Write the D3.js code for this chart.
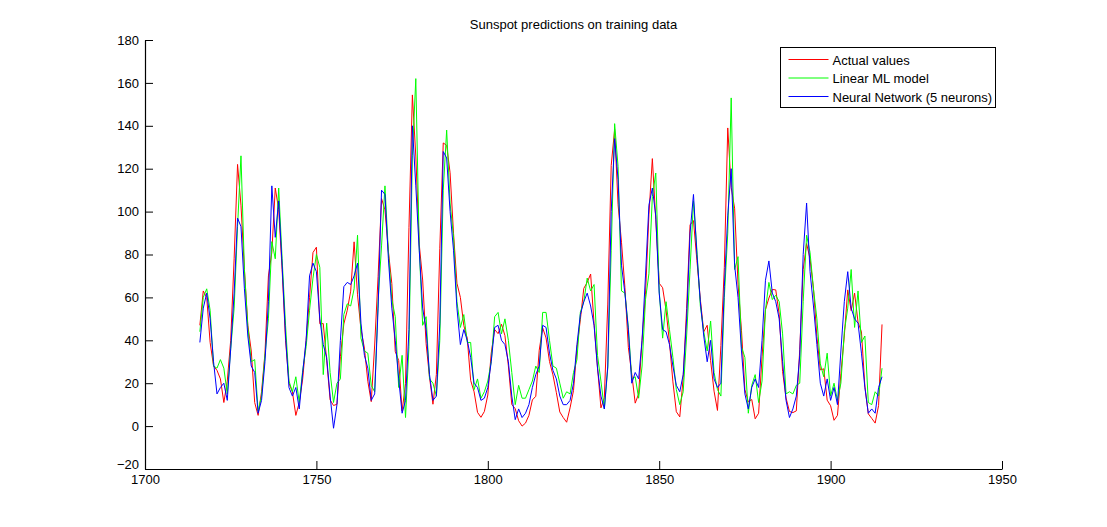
<!DOCTYPE html>
<html>
<head>
<meta charset="utf-8">
<script src="https://cdn.jsdelivr.net/npm/d3@7"></script>
<style>
  body { margin: 0; background: #fff; }
  text { font-family: "Liberation Sans", Arial, sans-serif; }
</style>
</head>
<body>
<div id="chart"></div>
<script>
// Years covered by the training set
const startYear = 1716;
const endYear = 1915;

// Actual yearly sunspot numbers (1716-1915)
const actualValues = [
  47, 63, 60, 39, 28, 26, 22, 11, 21, 40,
  78, 122, 103, 73, 47, 35, 11, 5, 16, 34,
  70, 81, 111, 101, 73, 40, 20, 16, 5, 11,
  22, 40, 60, 80.9, 83.4, 47.7, 47.8, 30.7, 12.2, 9.6,
  10.2, 32.4, 47.6, 54, 62.9, 85.9, 61.2, 45.1, 36.4, 20.9,
  11.4, 37.8, 69.8, 106.1, 100.8, 81.6, 66.5, 34.8, 30.6, 7,
  19.8, 92.5, 154.4, 125.9, 84.8, 68.1, 38.5, 22.8, 10.2, 24.1,
  82.9, 132, 130.9, 118.1, 89.9, 66.6, 60, 46.9, 41, 21.3,
  16, 6.4, 4.1, 6.8, 14.5, 34, 45, 43.1, 47.5, 42.2,
  28.1, 10.1, 8.1, 2.5, 0, 1.4, 5, 12.2, 13.9, 35.4,
  45.8, 41.1, 30.1, 23.9, 15.6, 6.6, 4, 1.8, 8.5, 16.6,
  36.3, 49.6, 64.2, 67, 70.9, 47.8, 27.5, 8.5, 13.2, 56.9,
  121.5, 138.3, 103.2, 85.7, 64.6, 36.7, 24.2, 10.7, 15, 40.1,
  61.5, 98.5, 124.7, 96.3, 66.6, 64.5, 54.1, 39, 20.6, 6.7,
  4.3, 22.7, 54.8, 93.8, 95.8, 77.2, 59.1, 44, 47, 30.5,
  16.3, 7.3, 37.6, 74, 139, 111.2, 101.6, 66.2, 44.7, 17,
  11.3, 12.4, 3.4, 6, 32.3, 54.3, 59.7, 63.7, 63.5, 52.2,
  25.4, 13.1, 6.8, 6.3, 7.1, 35.6, 73, 85.1, 78, 64,
  41.8, 26.2, 26.7, 12.1, 9.5, 2.7, 5, 24.4, 42, 63.5,
  53.8, 62, 48.5, 43.9, 18.6, 5.7, 3.6, 1.4, 9.6, 47.4
];

// Linear ML model predictions
const linearValues = [
  44, 60, 64, 54, 28, 27, 31, 27, 15, 36,
  55, 93, 126, 73, 46, 30, 31, 7, 14, 33,
  50, 86, 78, 111, 78, 47, 21, 16, 23, 11,
  26, 37, 54, 69, 80, 74, 24, 48, 25, 11,
  20, 22, 52, 57, 56, 64, 89, 41, 35, 34,
  19, 16, 58, 84, 112, 81, 59, 51, 18, 33,
  4, 37, 126, 162, 83, 47, 51, 22, 20, 14,
  40, 110, 138, 104, 88, 58, 46, 52, 39, 39,
  17, 22, 13, 16, 21, 30, 51, 53, 43, 50,
  40, 25, 10, 19, 13, 13, 17, 21, 28, 25,
  53, 53, 40, 28, 27, 20, 13, 16, 15, 25,
  31, 53, 58, 69, 63, 66, 33, 21, 8, 27,
  82, 141, 121, 63, 62, 46, 22, 23, 13, 28,
  59, 71, 107, 118, 63, 41, 58, 45, 32, 17,
  10, 16, 42, 73, 105, 82, 56, 44, 35, 49,
  25, 17, 14, 60, 90, 153, 73, 79, 37, 32,
  6, 19, 24, 11, 21, 54, 67, 59, 61, 58,
  43, 15, 16, 15, 19, 20, 58, 89, 81, 64,
  50, 29, 23, 34, 14, 20, 12, 20, 44, 55,
  73, 46, 63, 39, 42, 11, 10, 16, 14, 27
];

// Neural network (5 neurons) predictions
const neuralValues = [
  39, 55, 62, 50, 30, 15, 18, 20, 12, 36,
  62, 97, 93, 64, 42, 28, 25, 6, 12, 30,
  58, 112, 88, 105, 75, 42, 18, 14, 18, 8,
  25, 40, 70, 76, 72, 50, 38, 32, 14, -1,
  10, 40, 65, 67, 66, 70, 76, 48, 33, 27,
  12, 15, 55, 110, 108, 78, 55, 40, 22, 6,
  12, 45, 140, 112, 82, 55, 45, 24, 12, 14,
  48, 128, 125, 100, 82, 55, 38, 45, 40, 32,
  20, 18, 12, 13, 18, 30, 46, 47, 40, 38,
  30, 14, 3, 8, 4, 6, 10, 18, 24, 28,
  47, 46, 34, 26, 22, 14, 10, 10, 12, 20,
  38, 52, 58, 62, 56, 47, 27, 14, 8, 28,
  100, 134, 115, 75, 62, 45, 20, 25, 22, 40,
  70, 103, 111, 98, 62, 45, 44, 38, 28, 19,
  16, 24, 50, 90, 108, 80, 58, 42, 30, 40,
  22, 18, 20, 65, 98, 120, 75, 60, 35, 15,
  8, 18, 22, 18, 40, 68, 77, 62, 58, 50,
  30, 12, 4, 8, 14, 33, 80, 104, 72, 56,
  38, 20, 14, 22, 12, 18, 10, 35, 58, 72,
  55, 50, 48, 34, 18, 6, 8, 6, 18, 23
];

const seriesNames = ["Actual values", "Linear ML model", "Neural Network (5 neurons)"];
const seriesColors = ["#ff0000", "#00ff00", "#0000ff"];

const xTicks = [1700, 1750, 1800, 1850, 1900, 1950];
const yTicks = [-20, 0, 20, 40, 60, 80, 100, 120, 140, 160, 180];

const years = d3.range(startYear, endYear + 1);

// Figure size and axes position
const W = 1107, H = 527;
const margin = { top: 40, right: 105, bottom: 58, left: 145 };
const width = W - margin.left - margin.right;
const height = H - margin.top - margin.bottom;

const svg = d3.select("#chart")
    .append("svg")
    .attr("width", W)
    .attr("height", H);

const g = svg.append("g")
    .attr("transform", "translate(" + margin.left + "," + margin.top + ")");

const x = d3.scaleLinear().domain([1700, 1950]).range([0, width]);
const y = d3.scaleLinear().domain([-20, 180]).range([height, 0]);

// Bottom axis, ticks pointing inward
const xAxis = g.append("g")
    .attr("transform", "translate(0," + height + ")")
    .call(d3.axisBottom(x).tickValues(xTicks).tickFormat(d3.format("d"))
        .tickSize(-8).tickSizeOuter(0).tickPadding(6));

// Left axis, ticks pointing inward
const yAxis = g.append("g")
    .call(d3.axisLeft(y).tickValues(yTicks).tickFormat(d3.format("d"))
        .tickSize(-8).tickSizeOuter(0).tickPadding(6));

[xAxis, yAxis].forEach(function (ax) {
    ax.select(".domain").attr("stroke", "#000").attr("stroke-width", 1.2);
    ax.selectAll(".tick line").attr("stroke", "#000");
    ax.selectAll(".tick text")
        .style("font-size", "13px")
        .style("font-family", "'Liberation Sans', Arial, sans-serif")
        .attr("fill", "#000");
});

// the -20 label sits right above the 1700 label, nudge it up a little
yAxis.selectAll(".tick text").filter(d => d === -20).attr("dy", "-0.05em");

// Lines
const line = d3.line()
    .x((d, i) => x(years[i]))
    .y(d => y(d));

[actualValues, linearValues, neuralValues].forEach(function (vals, k) {
    g.append("path")
        .datum(vals)
        .attr("fill", "none")
        .attr("stroke", seriesColors[k])
        .attr("stroke-width", 1)
        .attr("d", line);
});

// Title
svg.append("text")
    .attr("x", margin.left + width / 2)
    .attr("y", 29)
    .attr("text-anchor", "middle")
    .style("font-size", "13px")
    .text("Sunspot predictions on training data");

// Legend
const legend = svg.append("g").attr("transform", "translate(780.5,47.5)");
legend.append("rect")
    .attr("width", 215)
    .attr("height", 60)
    .attr("fill", "#fff")
    .attr("stroke", "#000");

seriesNames.forEach(function (name, k) {
    const row = legend.append("g").attr("transform", "translate(0," + (12 + k * 18.5) + ")");
    row.append("line")
        .attr("x1", 8).attr("x2", 48)
        .attr("y1", 0).attr("y2", 0)
        .attr("stroke", seriesColors[k]);
    row.append("text")
        .attr("x", 52)
        .attr("y", 5)
        .style("font-size", "13px")
        .text(name);
});
</script>
</body>
</html>
